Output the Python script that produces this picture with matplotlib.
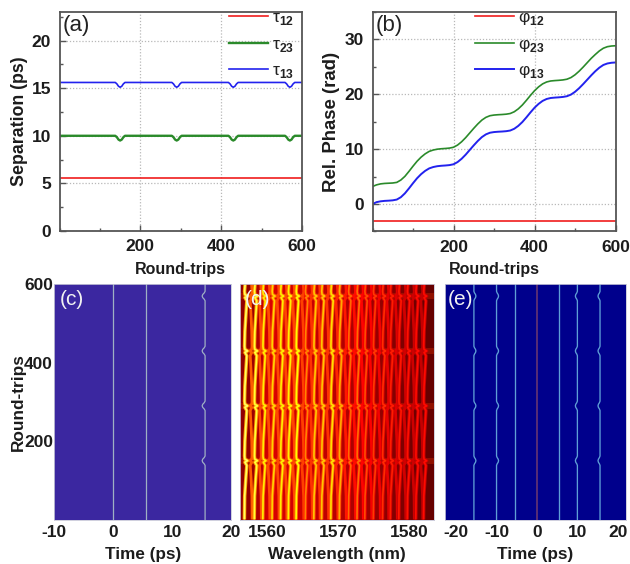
import numpy as np
import matplotlib
matplotlib.use("Agg")
import matplotlib.pyplot as plt
from matplotlib.ticker import MultipleLocator

# ---------- data ----------
rt_sep = [0, 138, 142, 146, 150, 154, 158, 162, 278, 282, 286, 290, 294, 298, 302,
          418, 422, 426, 430, 434, 438, 442, 558, 562, 566, 570, 574, 578, 582, 600]
tau12 = [5.55] * 30
tau23 = [10.0, 10.0, 9.85, 9.6, 9.5, 9.6, 9.85, 10.0, 10.0, 9.85, 9.6, 9.5, 9.6, 9.85, 10.0,
         10.0, 9.85, 9.6, 9.5, 9.6, 9.85, 10.0, 10.0, 9.85, 9.6, 9.5, 9.6, 9.85, 10.0, 10.0]
tau13 = [15.6, 15.6, 15.45, 15.2, 15.1, 15.2, 15.45, 15.6, 15.6, 15.45, 15.2, 15.1, 15.2, 15.45, 15.6,
         15.6, 15.45, 15.2, 15.1, 15.2, 15.45, 15.6, 15.6, 15.45, 15.2, 15.1, 15.2, 15.45, 15.6, 15.6]
zero_line = [0.0] * 30

rt_phase = list(range(0, 601, 10))
phi12 = [-3.14] * 61
phi23 = [3.2, 3.5, 3.68, 3.76, 3.8, 3.84, 3.95, 4.38, 5.05, 5.95, 6.9, 7.8, 8.55, 9.15, 9.6, 9.85,
         10.0, 10.08, 10.13, 10.2, 10.35, 10.75, 11.35, 12.1, 12.95, 13.8, 14.6, 15.3, 15.8, 16.1,
         16.22, 16.28, 16.32, 16.38, 16.5, 16.82, 17.35, 18.05, 18.9, 19.8, 20.65, 21.35, 21.9, 22.25,
         22.43, 22.5, 22.55, 22.62, 22.75, 23.05, 23.55, 24.2, 24.95, 25.75, 26.55, 27.25, 27.9, 28.4,
         28.68, 28.8, 28.85]
phi13 = [0.0, 0.35, 0.5, 0.58, 0.62, 0.68, 0.82, 1.25, 1.95, 2.85, 3.8, 4.7, 5.45, 6.05, 6.5, 6.75,
         6.9, 6.98, 7.03, 7.1, 7.25, 7.65, 8.25, 9.0, 9.85, 10.7, 11.5, 12.2, 12.7, 13.0,
         13.12, 13.18, 13.22, 13.28, 13.4, 13.72, 14.25, 14.95, 15.8, 16.7, 17.55, 18.25, 18.8, 19.15,
         19.33, 19.4, 19.45, 19.52, 19.65, 19.95, 20.45, 21.1, 21.85, 22.65, 23.45, 24.2, 24.85, 25.35,
         25.62, 25.75, 25.8]

# spectrogram (d): fringe centres (nm), their brightness, and the drift over round-trips
main_nm = [1557.0, 1558.4, 1559.6, 1560.9, 1562.1, 1563.2, 1564.3, 1565.6, 1566.8, 1567.9, 1569.2,
           1570.4, 1571.7, 1572.9, 1574.0, 1575.2, 1576.5, 1577.6, 1578.8, 1580.0, 1581.2, 1582.3]
main_level = [0.84, 0.80, 0.72, 0.68, 0.72, 0.72, 0.74, 0.56, 0.66, 0.66, 0.70,
              0.62, 0.52, 0.53, 0.48, 0.45, 0.43, 0.41, 0.40, 0.39, 0.38, 0.38]
side_nm = [1557.7, 1559.0, 1560.2, 1561.5, 1562.6, 1563.7, 1565.0, 1566.2, 1567.3, 1568.5, 1569.8,
           1571.0, 1572.3, 1573.4, 1574.6, 1575.8, 1577.0, 1578.2, 1579.4, 1580.6, 1581.8]
side_level = [0.50, 0.48, 0.48, 0.47, 0.47, 0.47, 0.46, 0.44, 0.44, 0.44, 0.42,
              0.40, 0.38, 0.37, 0.36, 0.35, 0.33, 0.32, 0.30, 0.29, 0.28]
rt_fringe = [0, 60, 110, 138, 146, 150, 154, 162, 200, 250, 278, 286, 290, 294, 302, 340, 390, 418,
             426, 430, 434, 442, 480, 530, 558, 566, 570, 574, 582, 600]
drift_nm = [-0.22, -0.18, 0.0, 0.12, -0.15, 0.22, -0.15, -0.20, -0.15, 0.02, 0.12, -0.15, 0.22, -0.15,
            -0.20, -0.15, 0.02, 0.12, -0.15, 0.22, -0.15, -0.20, -0.15, 0.02, 0.12, -0.15, 0.22, -0.15,
            -0.20, -0.12]
band_rt = [150, 290, 430, 570]
envelope_level = [0.20, 0.31, 0.30, 0.29, 0.27, 0.25, 0.23, 0.20, 0.17, 0.14]

# ---------- style ----------
plt.rcParams.update({
    "font.family": ["Liberation Sans", "DejaVu Sans"],
    "mathtext.fontset": "custom",
    "mathtext.rm": "Liberation Sans",
    "mathtext.bf": "Liberation Sans:bold",
    "axes.unicode_minus": False,
})
W, H = 630, 564
RED, GREEN, BLUE = "#f01c1c", "#2a8a2a", "#2222ee"
TXT = "#1c1c1c"
EDGE = "#555555"
fig = plt.figure(figsize=(W / 100, H / 100), dpi=100)


def axes_px(l, t, r, b):
    return fig.add_axes([l / W, 1 - b / H, (r - l) / W, (b - t) / H])


def bold_ticks(ax, fs=12.5):
    for lab in ax.get_xticklabels() + ax.get_yticklabels():
        lab.set_fontweight("bold")
        lab.set_fontsize(fs)
        lab.set_color(TXT)


def line_panel(ax, ylabel, ylabel_fs, ylabel_x, tag):
    ax.set_xlim(0, 600)
    ax.xaxis.set_minor_locator(MultipleLocator(100))
    ax.set_xticks([200, 400, 600])
    ax.grid(True, which="major", color="#b8b8b8", ls=(0, (1, 1.5)), lw=0.9)
    ax.set_axisbelow(True)
    for s in ax.spines.values():
        s.set_color(EDGE)
        s.set_linewidth(1.3)
    ax.tick_params(which="major", direction="in", length=4, width=1, color=EDGE, pad=6)
    ax.tick_params(which="minor", direction="in", length=2.5, width=1, color=EDGE)
    ax.set_xlabel("Round-trips", fontweight="bold", fontsize=11.5, color=TXT, labelpad=5.5)
    ax.set_ylabel(ylabel, fontweight="bold", fontsize=ylabel_fs, color=TXT)
    ax.yaxis.set_label_coords(ylabel_x, 0.5)
    ax.text(0.014, 0.937, tag, transform=ax.transAxes, fontsize=16, color="#222222", va="center")
    bold_ticks(ax)


def legend(ax, anchor):
    leg = ax.legend(loc="upper left", bbox_to_anchor=anchor, bbox_transform=ax.transAxes, frameon=False,
                    fontsize=12.5, handlelength=2.25, handletextpad=0.25, labelspacing=0.53,
                    borderpad=0, borderaxespad=0)
    for t in leg.get_texts():
        t.set_color("#222222")


# (a)
a = axes_px(59.5, 12, 302, 231)
a.plot(rt_sep, tau12, color=RED, lw=1.2, label="τ$_{\\mathbf{12}}$")
a.plot(rt_sep, tau23, color=GREEN, lw=1.7, label="τ$_{\\mathbf{23}}$")
a.plot(rt_sep, tau13, color=BLUE, lw=1.2, label="τ$_{\\mathbf{13}}$")
a.set_ylim(0, 23)
a.yaxis.set_major_locator(MultipleLocator(5))
a.yaxis.set_minor_locator(MultipleLocator(2.5))
line_panel(a, "Separation (ps)", 12.8, -0.13, "(a)")
legend(a, (0.697, 1.008))

# (b)
b = axes_px(372.5, 12, 615.5, 231.5)
b.plot(rt_phase, phi12, color=RED, lw=1.2, label="φ$_{\\mathbf{12}}$")
b.plot(rt_phase, phi23, color=GREEN, lw=1.2, label="φ$_{\\mathbf{23}}$")
b.plot(rt_phase, phi13, color=BLUE, lw=1.4, label="φ$_{\\mathbf{13}}$")
b.set_ylim(-5, 35)
b.yaxis.set_major_locator(MultipleLocator(10))
b.yaxis.set_minor_locator(MultipleLocator(5))
line_panel(b, "Rel. Phase (rad)", 13.4, -0.134, "(b)")
legend(b, (0.42, 1.008))


def map_panel(ax, xlim, xticks, xlabel, tag, tagx, tag_c="#f2f2f2"):
    ax.set_xlim(*xlim)
    ax.set_ylim(0, 600)
    ax.set_xticks(xticks)
    ax.set_yticks([])
    ax.tick_params(axis="x", length=0, pad=4)
    for s in ax.spines.values():
        s.set_color("#c8c8d8")
        s.set_linewidth(0.6)
    ax.set_xlabel(xlabel, fontweight="bold", fontsize=12.3, color=TXT, labelpad=5)
    ax.text(tagx, 0.935, tag, transform=ax.transAxes, fontsize=15, color=tag_c, va="center")
    bold_ticks(ax)


# (c)
c = axes_px(54.3, 284.3, 231, 519.5)
c.set_facecolor("#3b27a0")
for series in (zero_line, tau12, tau13):
    c.plot(series, rt_sep, color="#9fb0c4", lw=0.9)
map_panel(c, (-10, 20), [-10, 0, 10, 20], "Time (ps)", "(c)", 0.03)
c.set_yticks([200, 400, 600])
c.tick_params(axis="y", length=0, pad=1)
bold_ticks(c)
c.set_ylabel("Round-trips", fontweight="bold", fontsize=12.4, color=TXT)
c.yaxis.set_label_coords(-0.16, 0.5)

# (d)
d = axes_px(240.3, 284.3, 434.3, 519.5)
cmap = plt.get_cmap("hot")
d.imshow([envelope_level], aspect="auto", cmap=cmap, vmin=0, vmax=1, interpolation="bilinear",
         extent=(1556.2, 1583.6, 0, 600), origin="lower")
rt_arr, drift_arr = np.asarray(rt_fringe), np.asarray(drift_nm)
for nm, lev in zip(side_nm, side_level):
    d.plot(nm - drift_arr * 0.8, rt_arr, color=cmap(lev), lw=2.0, solid_capstyle="butt")
for nm, lev in zip(main_nm, main_level):
    d.plot(nm + drift_arr, rt_arr, color=cmap(lev * 0.72), lw=2.5, solid_capstyle="butt")
    d.plot(nm + drift_arr, rt_arr, color=cmap(lev), lw=1.2, solid_capstyle="butt")
for rt in band_rt:
    d.axhspan(rt - 8, rt + 8, color="#b82000", alpha=0.5, lw=0)
map_panel(d, (1556.2, 1583.6), [1560, 1570, 1580], "Wavelength (nm)", "(d)", 0.025)

# (e)
e = axes_px(445, 284.3, 625.7, 519.5)
e.set_facecolor("#00008c")
for series in (tau12, tau23, tau13):
    arr = np.asarray(series)
    for sign in (-1, 1):
        e.plot(sign * arr, rt_sep, color="#5f9fd6", lw=0.95)
e.plot(zero_line, rt_sep, color="#6e3a70", lw=1.1)
map_panel(e, (-22.75, 21.95), [-20, -10, 0, 10, 20], "Time (ps)", "(e)", 0.015)

fig.savefig("out.png", dpi=100)
